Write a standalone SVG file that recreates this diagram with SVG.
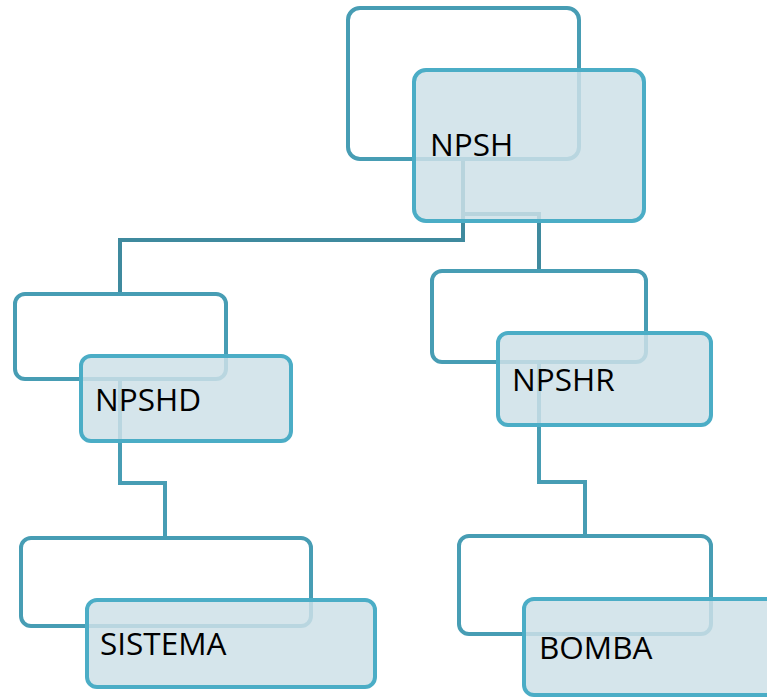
<svg xmlns="http://www.w3.org/2000/svg" width="767" height="698" viewBox="0 0 767 698">
<style>
.back{fill:none;stroke:#479DB4;stroke-width:4}
.front{fill:#CEE0E7;fill-opacity:0.85;stroke:#4BADC6;stroke-width:4}
.lbl{font-family:"Open Sans","Noto Sans",sans-serif;font-size:31.5px;fill:#000}
.c1{fill:none;stroke:#3F8A9E;stroke-width:4}
.c2{fill:none;stroke:#479DB4;stroke-width:4}
</style>
<rect width="767" height="698" fill="#fff"/>
<g id="connectors">
<path class="c1" d="M463,160 V240 H120 V295"/>
<path class="c1" d="M463,160 V214 H539 V271"/>
<path class="c2" d="M120,379 V483 H165 V538"/>
<path class="c2" d="M539,363 V482 H585 V536"/>
</g>
<g id="npsh">
<rect class="back" x="348" y="8" width="231" height="151" rx="12"/>
<rect class="front" x="414" y="70" width="230" height="151" rx="12"/>
<text class="lbl" x="430" y="156">NPSH</text>
</g>
<g id="npshd">
<rect class="back" x="15" y="294" width="211" height="85" rx="10"/>
<rect class="front" x="81" y="356" width="210" height="85" rx="10"/>
<text class="lbl" x="95" y="411">NPSHD</text>
</g>
<g id="npshr">
<rect class="back" x="432" y="271" width="214" height="91" rx="10"/>
<rect class="front" x="498" y="333" width="213" height="92" rx="10"/>
<text class="lbl" x="512" y="391">NPSHR</text>
</g>
<g id="sistema">
<rect class="back" x="21" y="538" width="290" height="88" rx="10"/>
<rect class="front" x="87" y="600" width="288" height="87" rx="10"/>
<text class="lbl" x="100" y="655">SISTEMA</text>
</g>
<g id="bomba">
<rect class="back" x="459" y="536" width="252" height="98" rx="10"/>
<rect class="front" x="524" y="599" width="260" height="96" rx="10"/>
<text class="lbl" x="539" y="659">BOMBA</text>
</g>
</svg>
